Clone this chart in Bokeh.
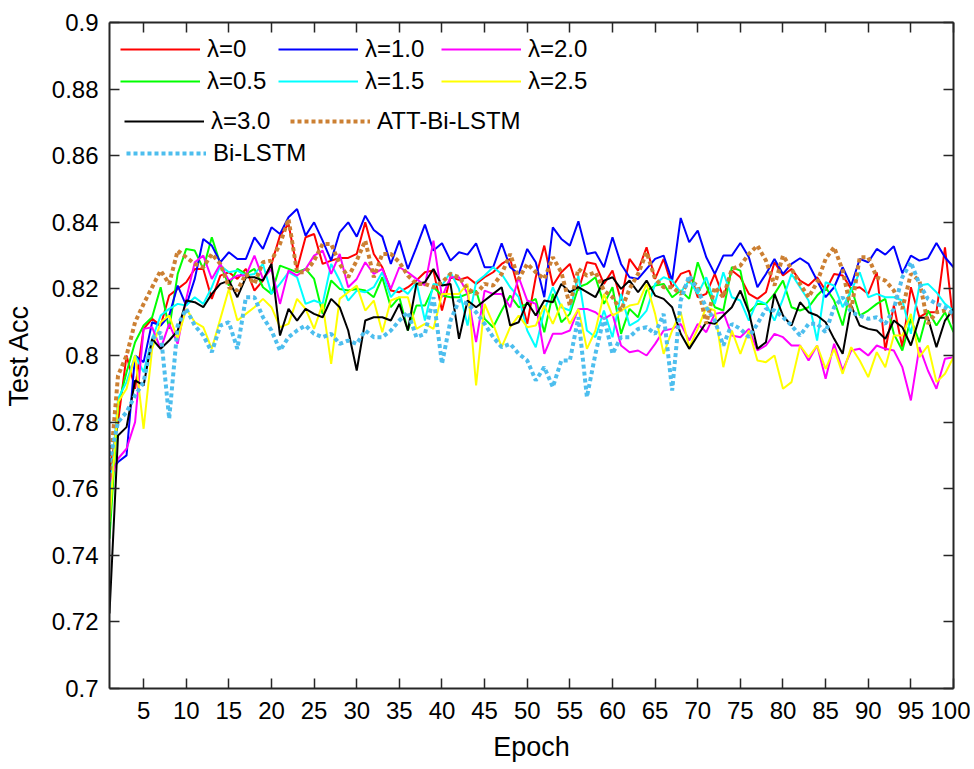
from bokeh.plotting import figure
from bokeh.models import Legend, LegendItem, LinearAxis, FixedTicker, PrintfTickFormatter
from bokeh.embed import file_html
from bokeh.resources import INLINE

epochs = list(range(1, 101))

acc_lambda_0 = [0.765, 0.78, 0.80, 0.79, 0.808, 0.811, 0.809, 0.818, 0.82, 0.822,
                0.826, 0.826, 0.817, 0.824, 0.825, 0.823, 0.826, 0.8195, 0.8225, 0.8275,
                0.836, 0.8395, 0.826, 0.8355, 0.8365, 0.8275, 0.8285, 0.8293, 0.8293, 0.8305,
                0.84, 0.8305, 0.8265, 0.8195, 0.819, 0.8205, 0.8225, 0.825, 0.8255, 0.8135,
                0.8235, 0.8227, 0.8235, 0.8215, 0.8235, 0.825, 0.8275, 0.829, 0.8195, 0.8095,
                0.8235, 0.833, 0.821, 0.825, 0.8275, 0.8195, 0.828, 0.8275, 0.8215, 0.8255,
                0.8165, 0.829, 0.8255, 0.8325, 0.823, 0.829, 0.8205, 0.8245, 0.8255, 0.8175,
                0.8185, 0.8245, 0.8175, 0.8255, 0.8235, 0.8185, 0.817, 0.819, 0.828, 0.824,
                0.826, 0.8225, 0.821, 0.8235, 0.8195, 0.8245, 0.824, 0.82, 0.8205, 0.8185,
                0.825, 0.8015, 0.815, 0.8025, 0.8205, 0.8115, 0.813, 0.813, 0.8325, 0.8095]

acc_lambda_05 = [0.745, 0.785, 0.795, 0.804, 0.809, 0.8115, 0.8205, 0.808, 0.8245, 0.832,
                 0.8315, 0.826, 0.8355, 0.8275, 0.821, 0.826, 0.8245, 0.826, 0.8205, 0.8185,
                 0.827, 0.826, 0.825, 0.826, 0.823, 0.8125, 0.8225, 0.82, 0.8195, 0.82,
                 0.8195, 0.8175, 0.8235, 0.8145, 0.8175, 0.8075, 0.815, 0.815, 0.8205, 0.818,
                 0.8175, 0.8175, 0.8185, 0.8195, 0.811, 0.8085, 0.8135, 0.818, 0.8145, 0.8155,
                 0.817, 0.807, 0.8185, 0.81, 0.8125, 0.8205, 0.8215, 0.8235, 0.8155, 0.8205,
                 0.8065, 0.814, 0.8115, 0.8195, 0.821, 0.8215, 0.8175, 0.8195, 0.817, 0.828,
                 0.821, 0.8145, 0.8135, 0.8265, 0.8255, 0.813, 0.8155, 0.8155, 0.8185, 0.8225,
                 0.8145, 0.8135, 0.8145, 0.818, 0.8205, 0.8165, 0.809, 0.8205, 0.812, 0.8135,
                 0.8155, 0.817, 0.8065, 0.8015, 0.811, 0.804, 0.8135, 0.809, 0.813, 0.807]

acc_lambda_10 = [0.765, 0.768, 0.770, 0.800, 0.798, 0.810, 0.809, 0.812, 0.821, 0.815,
                 0.823, 0.835, 0.833, 0.828, 0.831, 0.829, 0.829, 0.8355, 0.832, 0.8385,
                 0.8365, 0.8415, 0.844, 0.836, 0.840, 0.8345, 0.8285, 0.837, 0.840, 0.8357,
                 0.842, 0.8377, 0.8357, 0.8275, 0.8345, 0.826, 0.8325, 0.8393, 0.8315, 0.8337,
                 0.8285, 0.831, 0.8303, 0.8337, 0.8265, 0.8265, 0.8337, 0.8265, 0.8245, 0.832,
                 0.828, 0.8175, 0.8385, 0.835, 0.833, 0.8403, 0.8305, 0.831, 0.8265, 0.8355,
                 0.8275, 0.8235, 0.823, 0.826, 0.829, 0.830, 0.8225, 0.8413, 0.834, 0.8375,
                 0.8295, 0.8245, 0.830, 0.830, 0.8338, 0.8295, 0.8205, 0.8245, 0.829, 0.8245,
                 0.8275, 0.8292, 0.8275, 0.8225, 0.8175, 0.8205, 0.8265, 0.821, 0.829, 0.828,
                 0.832, 0.8303, 0.8328, 0.8247, 0.830, 0.8285, 0.8292, 0.8338, 0.8295, 0.8265]

acc_lambda_15 = [0.756, 0.787, 0.792, 0.800, 0.795, 0.805, 0.812, 0.814, 0.8155, 0.815,
                 0.8175, 0.8155, 0.8205, 0.827, 0.825, 0.8255, 0.824, 0.8245, 0.8275, 0.8185,
                 0.8215, 0.825, 0.8235, 0.8155, 0.8165, 0.8155, 0.8275, 0.8225, 0.8165, 0.8195,
                 0.819, 0.8205, 0.825, 0.8175, 0.8205, 0.8185, 0.822, 0.8105, 0.8215, 0.821,
                 0.825, 0.82, 0.809, 0.822, 0.824, 0.8265, 0.8245, 0.8205, 0.8175, 0.8075,
                 0.8025, 0.8135, 0.8205, 0.8145, 0.8135, 0.824, 0.8075, 0.8055, 0.8135, 0.8055,
                 0.8185, 0.809, 0.8105, 0.8135, 0.8215, 0.8235, 0.8225, 0.819, 0.8225, 0.8185,
                 0.8235, 0.8155, 0.825, 0.8175, 0.8165, 0.8105, 0.8165, 0.8155, 0.8105, 0.817,
                 0.8245, 0.8205, 0.8165, 0.8045, 0.822, 0.821, 0.8145, 0.8195, 0.825, 0.8175,
                 0.8185, 0.8175, 0.8175, 0.8165, 0.8065, 0.821, 0.8215, 0.819, 0.8155, 0.8135]

acc_lambda_20 = [0.762, 0.769, 0.772, 0.780, 0.808, 0.8085, 0.802, 0.8095, 0.8035, 0.817,
                 0.828, 0.830, 0.823, 0.8275, 0.8225, 0.824, 0.824, 0.830, 0.823, 0.826,
                 0.8155, 0.8255, 0.824, 0.826, 0.830, 0.8315, 0.8245, 0.8305, 0.8205, 0.823,
                 0.828, 0.8245, 0.826, 0.820, 0.8265, 0.825, 0.823, 0.821, 0.8345, 0.8175,
                 0.8235, 0.8235, 0.8185, 0.804, 0.8195, 0.8185, 0.8185, 0.8145, 0.8235, 0.8165,
                 0.8155, 0.8005, 0.8065, 0.8065, 0.8075, 0.814, 0.814, 0.813, 0.811, 0.8125,
                 0.803, 0.801, 0.8015, 0.800, 0.8035, 0.8075, 0.808, 0.8095, 0.8045, 0.8095,
                 0.807, 0.8125, 0.813, 0.806, 0.8055, 0.808, 0.8015, 0.803, 0.8065, 0.8055,
                 0.803, 0.803, 0.7985, 0.803, 0.793, 0.8035, 0.7955, 0.8015, 0.802, 0.800,
                 0.803, 0.802, 0.8015, 0.7965, 0.7865, 0.8025, 0.7955, 0.790, 0.799, 0.7995]

acc_lambda_25 = [0.750, 0.786, 0.790, 0.800, 0.778, 0.802, 0.810, 0.812, 0.805, 0.814,
                 0.810, 0.8085, 0.802, 0.811, 0.820, 0.8105, 0.8125, 0.8145, 0.817, 0.8145,
                 0.8085, 0.8095, 0.817, 0.814, 0.808, 0.8155, 0.7975, 0.817, 0.819, 0.821,
                 0.8135, 0.8165, 0.807, 0.8165, 0.8175, 0.8175, 0.808, 0.8095, 0.808, 0.8185,
                 0.8185, 0.8185, 0.8215, 0.791, 0.8155, 0.8095, 0.8025, 0.8085, 0.812, 0.8085,
                 0.809, 0.815, 0.8095, 0.8155, 0.8095, 0.814, 0.802, 0.8075, 0.8185, 0.812,
                 0.8135, 0.815, 0.8155, 0.8215, 0.8125, 0.8005, 0.8075, 0.813, 0.8025, 0.808,
                 0.8145, 0.8135, 0.7965, 0.8075, 0.8005, 0.8075, 0.7985, 0.798, 0.800, 0.790,
                 0.792, 0.803, 0.7995, 0.803, 0.796, 0.802, 0.7945, 0.8025, 0.7985, 0.7935,
                 0.801, 0.7965, 0.806, 0.806, 0.8125, 0.7995, 0.803, 0.792, 0.7945, 0.7995]

acc_lambda_30 = [0.7225, 0.776, 0.7785, 0.7925, 0.791, 0.805, 0.802, 0.8045, 0.8075, 0.8165,
                 0.816, 0.8145, 0.8185, 0.8215, 0.8225, 0.8175, 0.8235, 0.8235, 0.8225, 0.8275,
                 0.806, 0.814, 0.8105, 0.814, 0.8125, 0.8115, 0.817, 0.8145, 0.8075, 0.7955,
                 0.8105, 0.8115, 0.8115, 0.8105, 0.8155, 0.8075, 0.8215, 0.822, 0.826, 0.821,
                 0.8215, 0.805, 0.8165, 0.8145, 0.8165, 0.8185, 0.8205, 0.809, 0.810, 0.816,
                 0.812, 0.8165, 0.816, 0.8215, 0.819, 0.8205, 0.819, 0.8175, 0.8225, 0.8235,
                 0.820, 0.8225, 0.819, 0.8225, 0.818, 0.817, 0.8145, 0.8065, 0.802, 0.806,
                 0.810, 0.8095, 0.812, 0.8145, 0.8195, 0.813, 0.802, 0.804, 0.8185, 0.812,
                 0.809, 0.816, 0.813, 0.812, 0.810, 0.805, 0.8005, 0.815, 0.809, 0.808,
                 0.8075, 0.805, 0.8105, 0.8085, 0.803, 0.8113, 0.8113, 0.8025, 0.8105, 0.814]

acc_att_bilstm = [0.7635, 0.794, 0.800, 0.810, 0.8155, 0.8205, 0.8255, 0.8215, 0.8315, 0.8295,
                  0.8275, 0.8265, 0.8305, 0.8275, 0.8205, 0.8195, 0.8245, 0.8215, 0.828, 0.8285,
                  0.8335, 0.841, 0.825, 0.825, 0.8285, 0.8335, 0.8335, 0.8275, 0.8235, 0.8285,
                  0.8345, 0.8235, 0.8305, 0.8305, 0.828, 0.824, 0.8215, 0.8215, 0.8205, 0.822,
                  0.8245, 0.8235, 0.820, 0.8185, 0.8215, 0.821, 0.8245, 0.8305, 0.823, 0.8275,
                  0.825, 0.823, 0.8295, 0.825, 0.815, 0.826, 0.824, 0.825, 0.8195, 0.8175,
                  0.8135, 0.820, 0.8245, 0.831, 0.823, 0.8205, 0.8205, 0.8185, 0.8225, 0.821,
                  0.8095, 0.8205, 0.8175, 0.826, 0.827, 0.8305, 0.833, 0.8285, 0.821, 0.830,
                  0.826, 0.8215, 0.8175, 0.822, 0.829, 0.8325, 0.8255, 0.8135, 0.8295, 0.8295,
                  0.8235, 0.8225, 0.8195, 0.814, 0.8245, 0.8225, 0.8095, 0.813, 0.8135, 0.8125]

acc_bilstm = [0.768, 0.780, 0.783, 0.788, 0.792, 0.805, 0.807, 0.781, 0.809, 0.814,
              0.809, 0.806, 0.801, 0.809, 0.810, 0.802, 0.8175, 0.8175, 0.8115, 0.8075,
              0.8015, 0.8055, 0.8075, 0.809, 0.8065, 0.8055, 0.8065, 0.8035, 0.8045, 0.8035,
              0.8075, 0.8055, 0.8055, 0.8075, 0.8105, 0.813, 0.8055, 0.8065, 0.8175, 0.7975,
              0.8105, 0.8165, 0.8155, 0.813, 0.8095, 0.8055, 0.8025, 0.8035, 0.8005, 0.7985,
              0.7925, 0.7965, 0.7905, 0.7985, 0.7985, 0.8115, 0.7875, 0.8005, 0.8115, 0.8005,
              0.8055, 0.8055, 0.808, 0.8085, 0.8065, 0.8125, 0.7895, 0.8165, 0.824, 0.8195,
              0.8145, 0.8105, 0.803, 0.8095, 0.808, 0.8055, 0.8095, 0.814, 0.8135, 0.8115,
              0.809, 0.806, 0.8095, 0.8095, 0.807, 0.8145, 0.8175, 0.813, 0.812, 0.811,
              0.8115, 0.8095, 0.814, 0.8235, 0.828, 0.8215, 0.817, 0.8155, 0.8145, 0.8125]

x_ticks = [5, 10, 15, 20, 25, 30, 35, 40, 45, 50, 55, 60, 65, 70, 75, 80, 85, 90, 95, 100]
y_ticks = [0.7, 0.72, 0.74, 0.76, 0.78, 0.8, 0.82, 0.84, 0.86, 0.88, 0.9]

series = [
    ("\u03bb=0", acc_lambda_0, "#FF0000", "solid", 2),
    ("\u03bb=0.5", acc_lambda_05, "#00FF00", "solid", 2),
    ("\u03bb=1.0", acc_lambda_10, "#0000FF", "solid", 2),
    ("\u03bb=1.5", acc_lambda_15, "#00FFFF", "solid", 2),
    ("\u03bb=2.0", acc_lambda_20, "#FF00FF", "solid", 2),
    ("\u03bb=2.5", acc_lambda_25, "#FFFF00", "solid", 2),
    ("\u03bb=3.0", acc_lambda_30, "#000000", "solid", 2),
    ("ATT-Bi-LSTM", acc_att_bilstm, "#CC8033", "4 3", 4),
    ("Bi-LSTM", acc_bilstm, "#4DBEEE", "4 3", 4),
]

FONT = "Liberation Sans"
AX = "#262626"

p = figure(width=970, height=769, x_range=(1, 100), y_range=(0.7, 0.9),
           output_backend="svg", toolbar_location=None,
           min_border_left=108, min_border_right=17, min_border_top=22, min_border_bottom=81)
p.xgrid.visible = False
p.ygrid.visible = False
p.outline_line_color = None
p.background_fill_color = "white"
p.border_fill_color = "white"

renderers = {}
for label, vals, color, dash, w in series:
    r = p.line(epochs, vals, line_color=color, line_width=w, line_dash=dash)
    renderers[label] = r

xa = p.below[0]
ya = p.left[0]
top_axis = LinearAxis()
right_axis = LinearAxis()
p.add_layout(top_axis, "above")
p.add_layout(right_axis, "right")

for ax in [xa, top_axis]:
    ax.ticker = FixedTicker(ticks=x_ticks)
for ax in [ya, right_axis]:
    ax.ticker = FixedTicker(ticks=y_ticks)
    ax.formatter = PrintfTickFormatter(format="%g")

for ax in [xa, ya, top_axis, right_axis]:
    ax.axis_line_color = AX
    ax.axis_line_width = 2
    ax.major_tick_line_color = AX
    ax.major_tick_line_width = 1.5
    ax.major_tick_in = 10
    ax.major_tick_out = 0
    ax.minor_tick_line_color = None
    ax.major_label_text_font = FONT
    ax.major_label_text_font_size = "24px"
    ax.major_label_text_color = "#000000"
    ax.axis_label_text_font = FONT
    ax.axis_label_text_font_size = "27px"
    ax.axis_label_text_font_style = "normal"
    ax.axis_label_text_color = "#000000"

for ax in [top_axis, right_axis]:
    ax.major_label_text_font_size = "8px"
    ax.major_label_text_color = None
    ax.major_label_standoff = 0
    ax.axis_label_standoff = 0

xa.axis_label = "Epoch"
xa.major_label_standoff = 13
xa.axis_label_standoff = 10

ya.axis_label = "Test Acc"
ya.major_label_standoff = 11
ya.axis_label_standoff = 15

# legend key placement: (label, left of key line, row centre) in frame pixels from top-left
FRAME_H = 666
key_pos = [
    ("\u03bb=0", 11, 27), ("\u03bb=0.5", 11, 59),
    ("\u03bb=1.0", 169, 27), ("\u03bb=1.5", 169, 59),
    ("\u03bb=2.0", 332, 27), ("\u03bb=2.5", 332, 59),
    ("\u03bb=3.0", 15, 99), ("ATT-Bi-LSTM", 181, 99),
    ("Bi-LSTM", 17, 131),
]
for label, lx, cy in key_pos:
    leg = Legend(items=[LegendItem(label=label, renderers=[renderers[label]])],
                 location=(lx, FRAME_H - cy - 15),
                 padding=0, margin=0, spacing=0,
                 glyph_width=80, glyph_height=30, label_height=30,
                 label_standoff=7,
                 label_text_font=FONT, label_text_font_size="24px",
                 label_text_color="#000000",
                 border_line_color=None, background_fill_alpha=0)
    p.add_layout(leg)

open("out.html", "w").write(file_html(p, INLINE))
